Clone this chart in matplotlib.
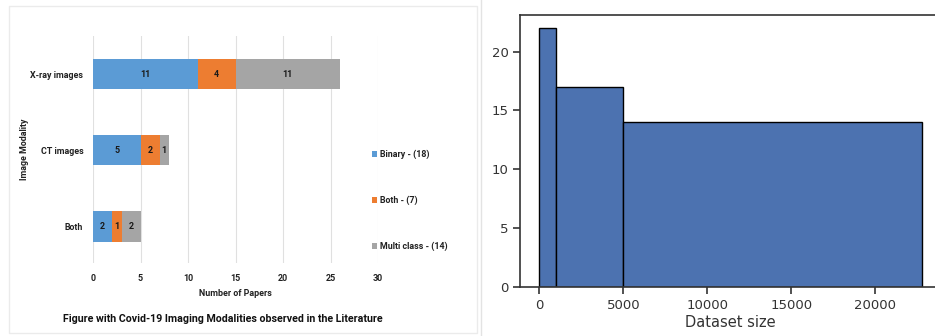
import matplotlib
matplotlib.use("Agg")
import matplotlib.pyplot as plt
from matplotlib.patches import Rectangle
from matplotlib.lines import Line2D
import numpy as np

# Left panel: stacked bars (papers per modality)
modalities = ["Both", "CT images", "X-ray images"]
binary = [2, 5, 11]
both = [1, 2, 4]
multi = [2, 1, 11]
series_names = ["Binary - (18)", "Both - (7)", "Multi class - (14)"]
series_colors = ["#5B9BD5", "#ED7D31", "#A5A5A5"]
x_ticks = [0, 5, 10, 15, 20, 25, 30]

# Right panel: dataset size histogram
bin_edges = [0, 1000, 5000, 22750]
bin_counts = [22, 17, 14]

W, H = 935, 336
fig = plt.figure(figsize=(W / 100, H / 100), dpi=100)
fig.patch.set_facecolor("white")

# panel frames
fig.add_artist(Rectangle((9 / W, 1 - 333 / H), (477 - 9) / W, (333 - 6) / H,
                         transform=fig.transFigure, fill=False,
                         edgecolor="#EBEBEB", linewidth=1))
fig.add_artist(Line2D([481 / W, 481 / W], [0, 1], transform=fig.transFigure,
                      color="#E3E3E3", linewidth=1))

lf = "Roboto"
fs = 6.4

# ---- left chart
ax = fig.add_axes([93 / W, 1 - 263 / H, 285 / W, 227 / H])
y = np.arange(len(modalities))
left = np.zeros(len(modalities))
for vals, name, col in zip([binary, both, multi], series_names, series_colors):
    vals = np.array(vals)
    bars = ax.barh(y, vals, left=left, height=0.4, color=col, label=name, zorder=3)
    for b, v in zip(bars, vals):
        ax.text(b.get_x() + b.get_width() / 2, b.get_y() + b.get_height() / 2, str(v),
                ha="center", va="center", fontsize=fs, fontweight="bold",
                family=lf, color="#1a1a1a", zorder=4)
    left += vals

ax.set_xlim(0, 30)
ax.set_ylim(-0.48, 2.5)
ax.set_xticks(x_ticks)
ax.set_yticks(y)
ax.set_yticklabels(modalities)
for s in ax.spines.values():
    s.set_visible(False)
ax.tick_params(length=0, pad=8)
ax.tick_params(axis="y", pad=7)
for lab in ax.get_xticklabels() + ax.get_yticklabels():
    lab.set_family(lf)
    lab.set_fontweight("bold")
    lab.set_fontsize(fs)
    lab.set_color("#222222")
ax.grid(axis="x", color="#E0E0E0", linewidth=0.8, zorder=0)
ax.set_xlabel("Number of Papers", family=lf, fontweight="bold", fontsize=fs,
              color="#222222", labelpad=4)
ax.set_ylabel("Image Modality", family=lf, fontweight="bold", fontsize=fs,
              color="#222222", labelpad=1)

handles, labels = ax.get_legend_handles_labels()
leg = fig.legend(handles, labels, loc="upper left", bbox_to_anchor=(364 / W, 1 - 142 / H),
                 frameon=False, prop={"family": lf, "weight": "bold", "size": fs},
                 handlelength=0.6, handleheight=0.6, handletextpad=0.3,
                 labelspacing=4.1)
for t in leg.get_texts():
    t.set_color("#222222")

fig.text(223 / W, 1 - 319 / H,
         "Figure with Covid-19 Imaging Modalities observed in the Literature",
         ha="center", va="center", family=lf, fontweight="bold", fontsize=7.7,
         color="#111111")

# ---- right chart
ax2 = fig.add_axes([520.2 / W, 1 - 287.3 / H, 420.6 / W, 272.3 / H])
ax2.hist(bin_edges[:-1], bins=bin_edges, weights=bin_counts,
         color="#4C72B0", edgecolor="black", linewidth=1)
ax2.margins(x=0.05, y=0.05)
ax2.set_ylim(0, max(bin_counts) * 1.05)
ax2.set_xticks([0, 5000, 10000, 15000, 20000])
ax2.set_yticks([0, 5, 10, 15, 20])
for s in ax2.spines.values():
    s.set_color("#333333")
    s.set_linewidth(1.2)
ax2.tick_params(colors="#333333", labelsize=9.5, length=5, width=1.2)
ax2.set_xlabel("Dataset size", fontsize=10.5, color="#333333", labelpad=2)

fig.savefig("out.png", dpi=100)
